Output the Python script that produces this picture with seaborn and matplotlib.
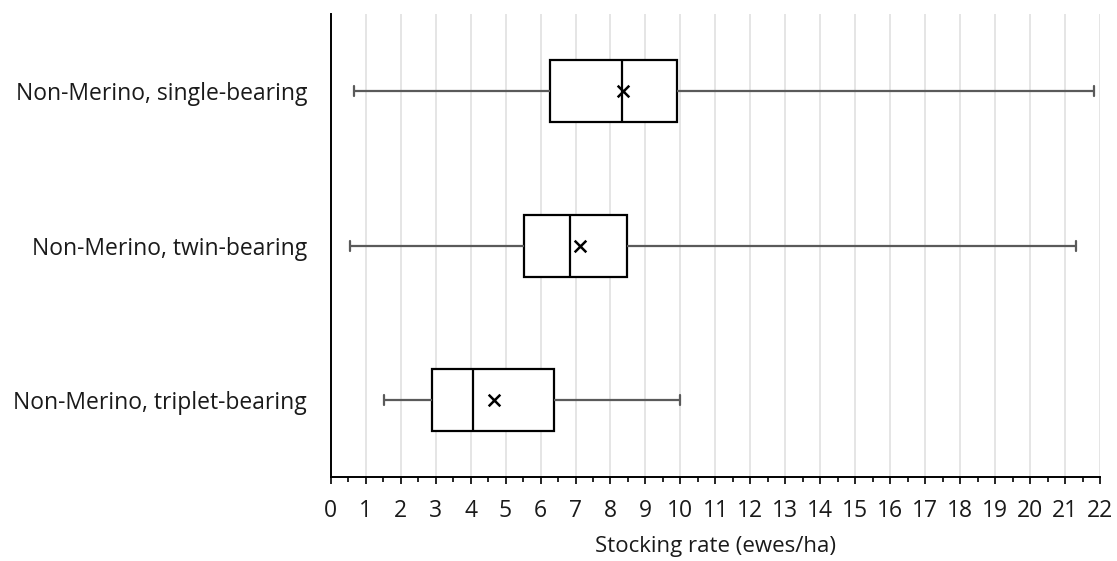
import seaborn as sns
import pandas as pd
import matplotlib.pyplot as plt
from matplotlib.ticker import MultipleLocator

# values (ewes/ha)
groups = ["Non-Merino, single-bearing", "Non-Merino, twin-bearing", "Non-Merino, triplet-bearing"]
whisker_low = [0.67, 0.54, 1.52]
q1 = [6.27, 5.52, 2.89]
median = [8.33, 6.83, 4.07]
q3 = [9.91, 8.47, 6.39]
whisker_high = [21.83, 21.31, 9.99]
means = [8.35, 7.13, 4.68]
xticks = list(range(0, 23))

# five-number summary per group -> seaborn computes the same quartiles with whis=(0, 100)
rows = []
for i, g in enumerate(groups):
    for v in [whisker_low[i], q1[i], median[i], q3[i], whisker_high[i]]:
        rows.append({"group": g, "rate": v})
df = pd.DataFrame(rows)
df_mean = pd.DataFrame({"group": groups, "rate": means})

sns.set_style("white")
plt.rcParams["font.family"] = ["Open Sans", "DejaVu Sans"]

fig = plt.figure(figsize=(11.17, 5.61), dpi=100)
ax = fig.add_axes([0.2960, 0.1492, 0.6890, 0.8258])

ax.grid(axis="x", which="major", color="#dedede", linewidth=1.1, zorder=0)
ax.set_axisbelow(True)

sns.boxplot(
    data=df, x="rate", y="group", order=groups, orient="h",
    whis=(0, 100), width=0.4, showfliers=False, ax=ax,
    boxprops=dict(facecolor="white", edgecolor="black", linewidth=1.6, zorder=2),
    medianprops=dict(color="black", linewidth=1.6, zorder=3),
    whiskerprops=dict(color="#5a5a5a", linewidth=1.6),
    capprops=dict(color="#5a5a5a", linewidth=1.6),
    capwidths=0.065,
)

sns.scatterplot(
    data=df_mean, x="rate", y="group", marker="x", color="black",
    s=70, linewidth=1.8, zorder=5, ax=ax, legend=False,
)

ax.set_xlim(0, 22)
ax.set_ylim(2.5, -0.5)
ax.set_xticks(xticks)
ax.set_xticklabels([str(t) for t in xticks])
ax.xaxis.set_minor_locator(MultipleLocator(0.5))
ax.tick_params(axis="x", which="major", direction="out", length=4.7, width=1.2,
               color="black", labelsize=16.5, pad=11, labelcolor="#1a1a1a", bottom=True)
ax.tick_params(axis="x", which="minor", direction="out", length=3.3, width=1.2,
               color="black", bottom=True)
ax.tick_params(axis="y", length=0, labelsize=16.5, pad=17, labelcolor="#1a1a1a")

for side in ["top", "right"]:
    ax.spines[side].set_visible(False)
for side in ["left", "bottom"]:
    ax.spines[side].set_color("black")
    ax.spines[side].set_linewidth(1.4)

ax.set_ylabel("")
ax.set_xlabel("Stocking rate (ewes/ha)", fontsize=16, color="#1a1a1a", labelpad=9)

fig.savefig("out.png", dpi=100)
